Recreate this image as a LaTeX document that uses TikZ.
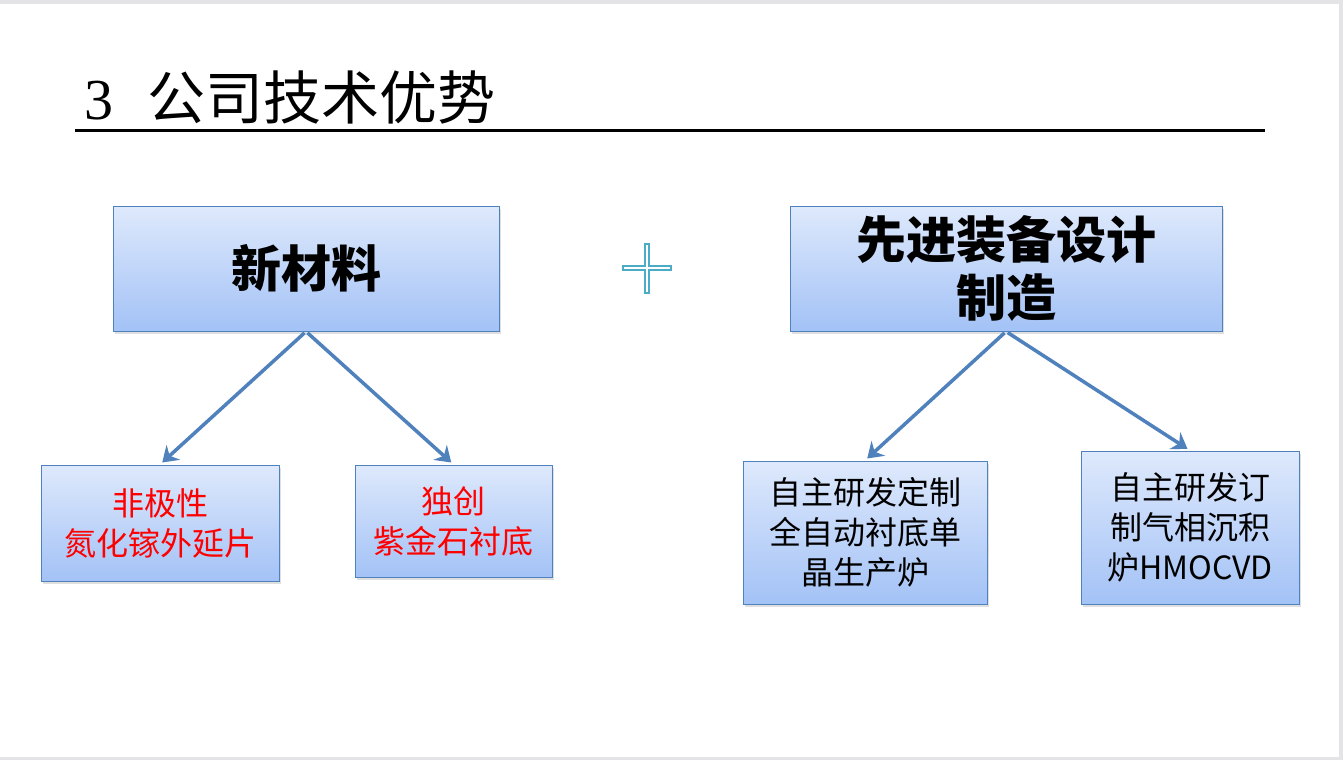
\documentclass[tikz,border=0pt]{standalone}
\usepackage{fontspec}
\newfontfamily\cjk{Noto Sans CJK SC}
\newfontfamily\titlefont{Liberation Serif}
\usetikzlibrary{arrows.meta, shadows}

\definecolor{boxline}{RGB}{79,129,189}
\definecolor{boxtop}{RGB}{222,233,252}
\definecolor{boxbottom}{RGB}{163,194,246}
\definecolor{pluscol}{RGB}{75,172,198}
\definecolor{framegray}{RGB}{228,228,230}

\begin{document}
\begin{tikzpicture}[x=1pt, y=-1pt]

  \tikzset{
    bluebox/.style={rectangle, draw=boxline, line width=1pt,
      top color=boxtop, bottom color=boxbottom,
      drop shadow={opacity=0.25, shadow xshift=2pt, shadow yshift=-3pt},
      inner sep=0pt, align=center},
    bigtext/.style={font=\cjk\bfseries\fontsize{50}{58}\selectfont},
    smalltext/.style={font=\cjk\fontsize{32}{40}\selectfont},
    arrowstyle/.style={-{Stealth[length=15pt, width=20pt, inset=5pt]},
      line width=3.5pt, boxline, shorten >=3pt, shorten <=2pt}
  }

  % frame of the slide
  \fill[framegray] (0,0) rectangle (1343,760);
  \fill[white] (0,4) rectangle (1339,757);

  % title
  \node[anchor=base west, inner sep=0pt] (title) at (84,119)
    {\fontsize{58}{58}\selectfont\titlefont 3\hspace{34pt}\cjk 公司技术优势};
  \draw[line width=3pt] (75,130) -- (1265,130);

  % top boxes
  \node[bluebox, bigtext, minimum width=386pt, minimum height=125pt]
    (material) at (306,268.5) {新材料};
  \node[bluebox, bigtext, minimum width=432pt, minimum height=125pt]
    (equip) at (1006,268.5) {先进装备设计\\制造};

  % plus sign
  \draw[pluscol, line width=6pt] (622,268) -- (672,268) (647,243) -- (647,294);
  \draw[white, line width=2.5pt] (624,268) -- (670,268) (647,245) -- (647,292);

  % bottom boxes
  \node[bluebox, smalltext, text=red, minimum width=238pt, minimum height=116pt]
    (gan) at (160,523) {非极性\\氮化镓外延片};
  \node[bluebox, smalltext, text=red, minimum width=197pt, minimum height=112pt]
    (substrate) at (453.5,521) {独创\\紫金石衬底};
  \node[bluebox, smalltext, minimum width=244pt, minimum height=143pt]
    (furnace) at (865,532.5) {自主研发定制\\全自动衬底单\\晶生产炉};
  \node[bluebox, smalltext, minimum width=218pt, minimum height=153pt]
    (mocvd) at (1190,527.5) {自主研发订\\制气相沉积\\炉HMOCVD};

  \draw[arrowstyle] (material.south) -- (gan.north);
  \draw[arrowstyle] (material.south) -- (substrate.north);
  \draw[arrowstyle] (equip.south) -- (furnace.north);
  \draw[arrowstyle] (equip.south) -- (mocvd.north);

\end{tikzpicture}
\end{document}
